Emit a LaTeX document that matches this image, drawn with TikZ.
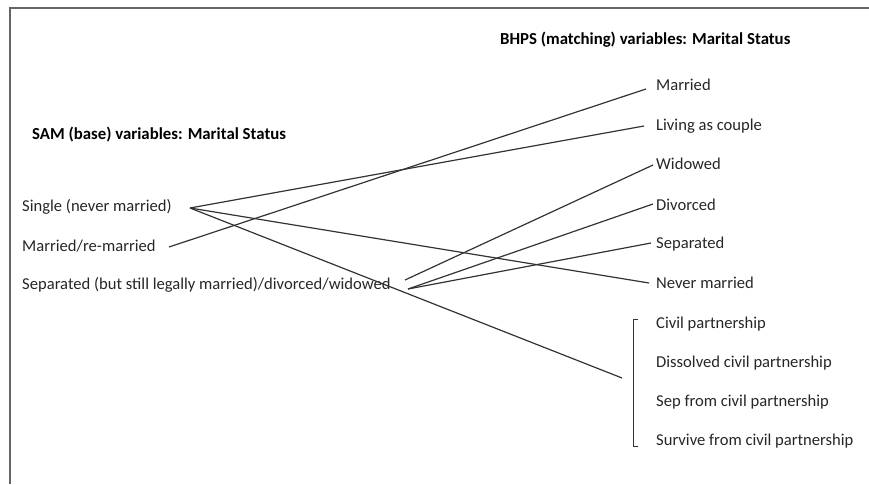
\documentclass[tikz,border=0pt]{standalone}
\usepackage{fontspec}
\setmainfont{Carlito}
\begin{document}
\begin{tikzpicture}[x=1pt,y=-1pt,
  lbl/.style={anchor=west,inner sep=0pt,font=\fontsize{16.6}{18}\selectfont,text=black!85},
  ttl/.style={anchor=west,inner sep=0pt,font=\fontsize{16.8}{18}\selectfont\bfseries,text=black},
  link/.style={draw=black!80,line width=1.2pt},
  frame/.style={draw=black!60,line width=2pt}]
\useasboundingbox (0,0) rectangle (869,484);
\draw[frame] (869,8) -- (10,8) -- (10,484);
% titles
\node[ttl] (bhps) at (500,40) {BHPS (matching) variables: Marital Status};
\node[ttl] (sam) at (32,135) {SAM (base) variables: Marital Status};
% left items
\node[lbl] (single) at (22,207) {Single (never married)};
\node[lbl] (remar) at (22,246) {Married/re-married};
\node[lbl] (sep) at (22,285) {Separated (but still legally married)/divorced/widowed};
% right items
\node[lbl] (married) at (656,85) {Married};
\node[lbl] (couple) at (656,126) {Living as couple};
\node[lbl] (widowed) at (656,164) {Widowed};
\node[lbl] (divorced) at (656,205) {Divorced};
\node[lbl] (separated) at (656,244) {Separated};
\node[lbl] (never) at (656,283) {Never married};
\node[lbl] (civil) at (656,324) {Civil partnership};
\node[lbl] (dissolved) at (656,363) {Dissolved civil partnership};
\node[lbl] (sepcivil) at (656,402) {Sep from civil partnership};
\node[lbl] (survive) at (656,441) {Survive from civil partnership};
% bracket
\coordinate (brT) at (633,319);
\coordinate (brB) at (633,446);
\draw[link,line width=1pt] ([xshift=5pt]brT) -- (brT) -- (brB) -- ([xshift=5pt]brB);
% connector ends
\coordinate (sOut) at (190,208);
\coordinate (rOut) at (169,247);
\coordinate (pOutA) at (405,280);
\coordinate (pOutB) at (408,289);
\coordinate (inMarried) at (646,89);
\coordinate (inCouple) at (644,126);
\coordinate (inWid) at (653,165);
\coordinate (inDiv) at (653,204);
\coordinate (inSep) at (651,243);
\coordinate (inNever) at (649,283);
\coordinate (inBr) at (622,378);
% connectors
\draw[link] (sOut) -- (inCouple);
\draw[link] (sOut) -- (inNever);
\draw[link] (sOut) -- (inBr);
\draw[link] (rOut) -- (inMarried);
\draw[link] (pOutA) -- (inWid);
\draw[link] (pOutB) -- (inDiv);
\draw[link] (pOutB) -- (inSep);
\end{tikzpicture}
\end{document}
